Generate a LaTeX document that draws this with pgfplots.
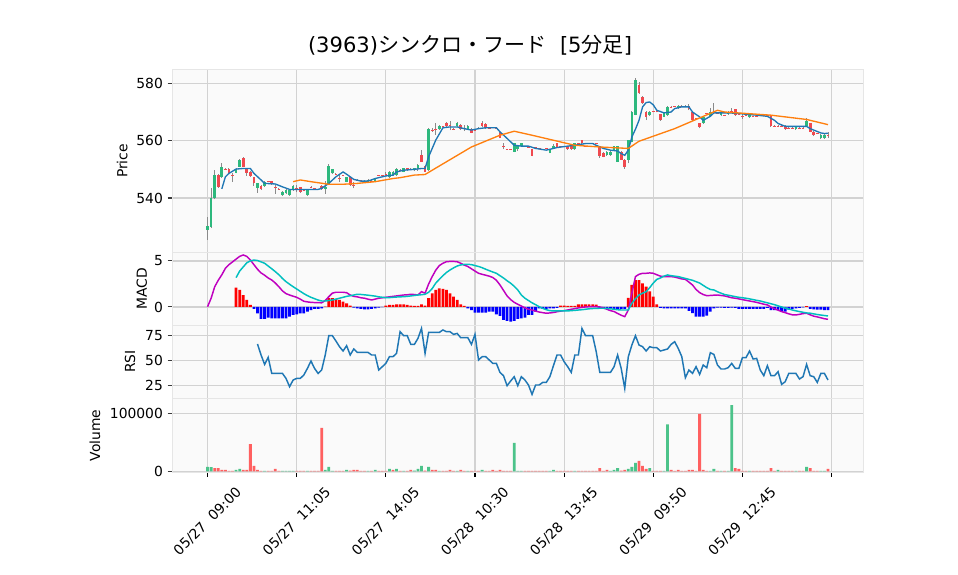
\documentclass[border=0pt]{standalone}
\usepackage{pgfplots}
\pgfplotsset{compat=1.18}
\usepackage{pgfplotstable}
\usepackage{fontspec}
\setmainfont{DejaVu Sans}
\newfontfamily\cjk{Noto Sans CJK JP}

\definecolor{upc}{HTML}{2DB87D}
\definecolor{dnc}{HTML}{F0494F}
\definecolor{vupc}{HTML}{4CC38A}
\definecolor{vdnc}{HTML}{FF6060}
\definecolor{wickc}{HTML}{8A8A8A}
\definecolor{bgc}{HTML}{FAFAFA}
\definecolor{gridc}{HTML}{D2D2D2}
\definecolor{framec}{HTML}{E6E6E6}
\definecolor{tickc}{HTML}{3A3A3A}
\definecolor{mpblue}{HTML}{1F77B4}
\definecolor{mporange}{HTML}{FF7F0E}
\definecolor{macdc}{HTML}{BF00BF}
\definecolor{sigc}{HTML}{00BFBF}

\pgfplotsset{
  panel/.style={
    scale only axis, width=518pt,
    xmin=-9.9, xmax=183.8,
    axis background/.style={fill=bgc},
    axis line style={draw=framec, line width=0.6pt},
    xmajorgrids, ymajorgrids,
    grid style={draw=gridc, line width=0.85pt},
    xtick={0,25,...,175}, xticklabels={},
    tick align=outside, major tick length=3.5pt,
    xtick pos=left, ytick pos=left,
    ytick style={draw=tickc, line width=0.8pt},
    xtick style={draw=none},
    /pgf/number format/assume math mode=true,
    ticklabel style={font=\fontsize{10.4}{12}\selectfont},
  },
}

\begin{document}

% candles, close >= open
\pgfplotstableread{
i o h l c
0 529.0 533.5 525.4 530.2
1 530.0 543.4 529.5 539.9
2 540.0 549.8 539.5 548.0
4 547.4 552.3 547.0 550.9
8 548.8 550.4 548.6 550.2
9 550.9 553.6 550.7 553.3
14 543.6 545.3 541.9 545.1
16 544.2 545.8 544.0 545.6
21 541.0 542.3 540.8 542.1
22 541.6 543.0 541.4 542.8
23 541.0 543.0 540.8 542.8
24 542.8 544.4 542.6 544.2
28 541.0 543.0 540.8 542.8
33 543.0 546.0 541.5 544.0
34 544.6 551.8 544.4 551.1
35 548.6 550.2 548.4 550.0
39 545.7 547.4 545.5 547.2
45 545.3 546.5 545.1 546.3
47 545.7 547.1 545.5 546.9
51 547.2 549.4 547.0 549.2
52 548.0 549.4 547.8 549.2
53 548.0 550.3 547.8 550.1
55 549.2 550.6 549.0 550.4
58 549.6 550.6 549.4 550.4
59 550.4 552.0 549.5 551.5
62 549.8 564.3 549.5 564.0
65 564.0 565.3 563.8 565.1
70 565.1 566.5 564.9 566.3
73 564.0 565.3 563.8 565.1
86 556.2 559.3 556.0 559.1
87 557.0 558.3 556.4 558.1
88 558.1 559.3 557.9 559.1
96 555.8 557.2 555.6 557.0
97 557.3 558.8 557.1 558.1
103 557.0 559.3 556.8 559.1
112 555.0 556.4 554.8 556.2
113 555.0 556.4 554.8 556.2
114 556.7 558.3 556.5 558.1
115 552.7 558.3 552.5 558.1
118 553.3 560.4 552.1 560.2
119 559.6 570.3 559.4 570.1
120 569.0 581.7 568.8 581.2
124 568.9 570.3 568.7 570.1
128 568.4 569.7 568.2 569.5
129 568.9 572.2 568.7 571.8
132 571.3 572.3 571.1 572.1
139 566.1 568.6 565.9 568.4
141 568.7 571.5 568.5 570.1
144 568.9 570.1 568.7 569.9
146 569.3 570.3 569.1 570.1
152 568.1 569.1 567.9 568.9
165 564.0 565.1 563.8 564.9
168 565.1 568.0 564.9 567.0
172 560.8 562.2 560.6 562.0
173 560.8 562.2 560.6 562.0
}\upT

% candles, close < open
\pgfplotstableread{
i o h l c
3 548.0 548.5 543.5 544.0
5 550.1 550.3 549.9 549.9
6 550.2 550.5 548.4 548.6
7 548.0 548.6 545.7 547.8
10 554.0 554.3 550.7 550.9
11 550.2 550.4 547.8 548.8
12 549.2 549.4 547.5 547.7
13 547.2 547.4 544.3 545.1
15 544.3 544.6 542.8 543.0
17 545.8 545.9 545.5 545.6
18 545.8 546.0 544.6 544.8
19 543.7 544.5 541.5 543.5
20 543.2 543.4 543.0 543.0
25 543.6 544.5 542.0 543.4
26 543.7 543.9 541.9 542.1
27 542.9 543.1 542.7 542.7
29 544.0 544.1 543.8 543.8
30 543.5 543.6 543.3 543.3
31 543.2 543.3 543.0 543.0
32 544.2 544.4 542.8 543.0
36 548.5 548.6 548.2 548.3
37 547.1 548.4 545.7 546.9
38 547.9 548.0 547.6 547.7
40 547.2 547.4 544.3 544.5
41 544.6 545.7 543.4 544.4
42 546.4 546.5 546.1 546.2
43 546.2 546.3 545.9 546.0
44 546.1 546.2 545.8 545.9
46 546.1 546.2 545.8 545.9
48 548.1 548.2 547.8 547.9
49 548.1 548.2 547.8 547.9
50 548.5 549.2 547.6 548.3
54 549.9 550.0 549.6 549.7
56 550.4 550.6 549.4 549.6
57 550.2 550.3 549.9 550.0
60 555.0 556.7 552.5 552.7
61 551.2 551.4 549.0 549.2
63 563.9 564.3 563.1 563.7
64 564.1 566.1 562.0 563.9
66 565.0 565.1 564.7 564.8
67 566.3 566.5 564.9 565.1
68 565.6 567.0 563.7 565.4
69 564.2 564.3 563.9 564.0
71 565.5 565.7 563.8 564.0
72 564.5 565.5 563.5 564.3
74 564.1 564.3 562.6 562.8
75 563.8 563.9 563.5 563.6
76 564.5 564.6 564.2 564.3
77 566.1 566.8 564.9 565.1
78 565.8 566.0 564.1 564.3
79 564.5 564.6 564.2 564.3
80 564.7 564.8 564.4 564.5
81 564.5 564.6 564.2 564.3
82 562.8 563.0 560.8 561.0
83 558.1 559.1 557.0 557.9
84 557.1 557.2 556.8 556.9
85 557.1 557.2 556.8 556.9
89 558.2 558.3 557.9 558.0
90 557.8 557.9 557.5 557.6
91 557.0 557.2 554.5 554.7
92 557.8 557.9 557.5 557.6
93 557.4 557.5 557.1 557.2
94 557.1 557.2 556.8 556.9
95 557.4 557.5 557.1 557.2
98 559.1 559.3 557.5 557.7
99 558.2 558.3 557.9 558.0
100 558.2 558.3 557.9 558.0
101 558.1 558.3 556.8 557.0
102 558.1 558.3 556.8 557.0
104 559.2 559.3 558.9 559.0
105 560.2 560.4 558.9 559.1
106 558.2 558.3 557.9 558.0
107 559.2 559.3 558.9 559.0
108 559.2 559.3 558.9 559.0
109 559.2 559.3 558.9 559.0
110 558.1 558.3 554.0 554.7
111 555.8 556.0 554.2 554.4
116 556.0 556.4 553.2 553.4
117 553.3 553.5 550.2 550.9
121 579.4 580.5 576.3 576.5
122 575.3 575.5 572.8 573.0
123 570.1 570.3 567.2 568.4
125 570.2 570.3 569.9 570.0
126 570.2 570.3 569.9 570.0
127 569.2 569.4 567.0 567.2
130 571.9 572.0 571.6 571.7
131 572.1 572.2 571.8 571.9
133 572.2 572.3 571.9 572.0
134 572.2 572.3 571.9 572.0
135 572.1 572.9 570.7 570.9
136 570.1 570.3 567.0 567.2
137 567.9 568.0 567.6 567.7
138 566.1 566.3 564.3 564.9
140 569.6 569.7 569.3 569.4
142 570.2 573.0 569.5 570.0
143 569.6 569.7 569.3 569.4
145 569.0 569.1 568.7 568.8
147 570.2 571.5 569.9 570.0
148 570.9 571.1 568.7 568.9
149 569.4 569.5 569.1 569.2
150 568.6 569.4 567.6 568.4
151 569.0 569.1 568.7 568.8
153 568.6 568.7 568.3 568.4
154 568.6 568.7 568.3 568.4
155 568.8 568.9 568.5 568.6
156 568.8 568.9 568.5 568.6
157 568.8 568.9 568.5 568.6
158 568.9 569.1 564.9 565.1
159 565.2 565.3 564.9 565.0
160 565.2 565.3 564.9 565.0
161 565.2 565.3 564.9 565.0
162 565.1 565.3 563.8 564.0
163 564.5 564.6 564.2 564.3
164 564.5 564.6 564.2 564.3
166 564.5 564.6 564.2 564.3
167 564.5 564.6 564.2 564.3
169 566.1 566.3 562.9 563.1
170 563.1 563.3 561.5 562.0
171 562.6 562.7 562.3 562.4
174 562.1 563.0 561.0 561.9
}\dnT

\pgfplotstableread{
i v
4 543.2
5 547.4
6 548.6
8 550.1
10 550.3
12 550.3
13 548.6
15 546.3
16 545.1
19 544.9
21 543.9
23 543.0
27 543.0
31 543.0
32 543.4
34 545.1
36 547.4
38 549.1
39 548.3
41 546.5
43 545.9
45 545.9
47 546.8
50 547.7
52 548.0
53 549.1
55 549.7
58 550.0
60 550.3
61 550.3
62 554.4
64 560.2
66 564.5
68 564.8
70 564.8
72 564.2
74 563.7
76 564.2
78 564.5
81 564.5
82 563.1
84 560.8
86 558.4
88 558.1
90 558.1
92 557.3
95 556.7
98 557.6
101 558.1
103 558.4
106 559.0
108 559.0
109 558.4
111 557.3
113 556.7
115 556.4
116 555.5
117 554.9
118 556.7
119 561.3
120 564.0
121 567.1
122 571.8
123 573.3
124 573.5
125 572.5
126 570.6
128 569.7
130 570.0
131 571.2
133 571.8
135 571.8
136 570.0
138 568.3
139 567.1
141 568.5
142 569.7
144 569.7
146 569.7
149 569.5
151 569.2
154 568.9
157 568.5
159 567.1
160 566.0
162 565.0
165 565.0
168 565.0
169 564.2
170 563.7
172 562.7
173 562.5
174 562.6
}\maA

\pgfplotstableread{
i v
24 545.7
26 546.3
29 545.7
34 544.8
38 544.8
42 545.1
47 545.7
52 546.8
54 547.1
58 548.0
61 548.2
63 549.7
74 557.8
82 561.9
86 563.3
91 561.9
103 558.4
110 557.8
118 557.3
121 559.8
131 564.2
143 570.6
145 570.0
158 568.9
168 567.4
174 565.6
}\maB

\pgfplotstableread{
i v
0 0.03
1 0.95
2 2.2
3 2.9
4 3.5
5 4.2
6 4.6
7 4.9
8 5.2
9 5.5
10 5.65
11 5.5
12 5.1
13 4.6
14 4.1
15 3.7
16 3.45
17 3.15
18 2.93
19 2.6
20 2.2
21 1.75
22 1.45
23 1.3
24 1.17
25 1.05
26 0.85
27 0.62
28 0.55
29 0.5
30 0.48
31 0.47
32 0.45
33 0.7
34 1.12
35 1.5
36 1.6
37 1.6
38 1.6
39 1.55
40 1.3
41 1.15
42 1.1
43 1.0
44 0.95
45 0.85
46 0.76
47 0.85
48 0.95
49 1.0
50 1.05
51 1.1
52 1.15
53 1.2
54 1.25
55 1.3
56 1.32
57 1.38
58 1.35
59 1.3
60 1.66
61 1.5
62 2.5
63 3.3
64 4.0
65 4.5
66 4.75
67 4.92
68 4.95
69 4.95
70 4.92
71 4.75
72 4.55
73 4.4
74 4.15
75 3.9
76 3.66
77 3.55
78 3.45
79 3.35
80 3.2
81 2.9
82 2.4
83 1.8
84 1.2
85 0.8
86 0.5
87 0.29
88 0.1
89 -0.1
90 -0.25
91 -0.33
92 -0.45
93 -0.55
94 -0.62
95 -0.68
96 -0.65
97 -0.6
98 -0.52
99 -0.45
100 -0.4
101 -0.33
102 -0.25
103 -0.18
104 -0.1
105 -0.05
106 0.0
107 0.03
108 0.05
109 0.03
110 0.0
111 -0.1
112 -0.25
113 -0.4
114 -0.5
115 -0.7
116 -0.9
117 -1.05
118 -0.33
119 1.5
120 3.3
121 3.55
122 3.66
123 3.66
124 3.7
125 3.66
126 3.5
127 3.35
128 3.3
129 3.3
130 3.3
131 3.25
132 3.15
133 3.05
134 3.0
135 2.7
136 2.39
137 1.9
138 1.56
139 1.35
140 1.23
141 1.25
142 1.28
143 1.3
144 1.25
145 1.2
146 1.1
147 1.0
148 0.95
149 0.88
150 0.8
151 0.72
152 0.65
153 0.58
154 0.5
155 0.4
156 0.3
157 0.22
158 0.0
159 -0.2
160 -0.35
161 -0.5
162 -0.62
163 -0.75
164 -0.85
165 -0.87
166 -0.8
167 -0.72
168 -0.68
169 -0.85
170 -1.0
171 -1.08
172 -1.18
173 -1.28
174 -1.34
}\macdT

\pgfplotstableread{
i v
8 3.19
9 3.9
10 4.35
11 4.8
12 5.0
13 5.1
14 5.05
15 4.9
16 4.75
17 4.45
18 4.15
19 3.84
20 3.5
21 3.1
22 2.75
23 2.47
24 2.2
25 1.95
26 1.7
27 1.45
28 1.23
29 1.05
30 0.9
31 0.75
32 0.65
33 0.65
34 0.7
35 0.76
36 0.85
37 0.95
38 1.05
39 1.15
40 1.22
41 1.3
42 1.38
43 1.36
44 1.32
45 1.28
46 1.23
47 1.18
48 1.1
49 1.05
50 1.01
51 1.02
52 1.05
53 1.08
54 1.1
55 1.12
56 1.15
57 1.2
58 1.25
59 1.3
60 1.33
61 1.38
62 1.6
63 2.0
64 2.6
65 3.0
66 3.4
67 3.75
68 4.02
69 4.25
70 4.45
71 4.57
72 4.62
73 4.64
74 4.6
75 4.5
76 4.4
77 4.27
78 4.1
79 3.95
80 3.8
81 3.66
82 3.4
83 3.15
84 2.85
85 2.58
86 2.25
87 1.85
88 1.3
89 0.95
90 0.7
91 0.45
92 0.25
93 0.03
94 -0.15
95 -0.3
96 -0.4
97 -0.43
98 -0.43
99 -0.43
100 -0.43
101 -0.43
102 -0.4
103 -0.37
104 -0.33
105 -0.3
106 -0.25
107 -0.2
108 -0.17
109 -0.15
110 -0.14
111 -0.14
112 -0.16
113 -0.2
114 -0.25
115 -0.3
116 -0.33
117 -0.33
118 -0.33
119 0.4
120 0.9
121 1.3
122 1.5
123 1.66
124 2.1
125 2.6
126 3.0
127 3.15
128 3.35
129 3.48
130 3.4
131 3.35
132 3.3
133 3.2
134 3.1
135 3.0
136 2.9
137 2.75
138 2.6
139 2.35
140 2.1
141 1.9
142 1.85
143 1.65
144 1.5
145 1.35
146 1.28
147 1.2
148 1.12
149 1.05
150 1.0
151 0.95
152 0.88
153 0.8
154 0.72
155 0.65
156 0.55
157 0.45
158 0.35
159 0.25
160 0.12
161 0.0
162 -0.12
163 -0.22
164 -0.33
165 -0.42
166 -0.5
167 -0.58
168 -0.65
169 -0.68
170 -0.75
171 -0.82
172 -0.88
173 -0.93
174 -0.98
}\sigT

\pgfplotstableread{
i v
8 2.1
9 1.85
10 1.3
11 0.76
12 0.22
33 0.03
34 0.95
35 0.95
36 0.87
37 0.76
38 0.58
39 0.4
40 0.15
50 0.15
51 0.22
52 0.22
53 0.29
54 0.29
55 0.29
56 0.22
57 0.15
58 0.12
59 0.12
60 0.29
61 0.15
62 0.95
63 1.49
64 1.85
65 2.03
66 1.96
67 1.85
68 1.49
69 1.12
70 0.76
71 0.29
72 0.12
99 0.15
100 0.15
101 0.12
102 0.12
103 0.12
104 0.29
105 0.29
106 0.29
107 0.29
108 0.29
109 0.25
118 1.0
119 2.39
120 2.93
121 2.93
122 2.57
123 2.2
124 1.7
125 1.12
126 0.29
168 0.1
}\hpos

\pgfplotstableread{
i v
13 -0.22
14 -0.7
15 -1.3
16 -1.3
17 -1.16
18 -1.23
19 -1.23
20 -1.23
21 -1.23
22 -1.23
23 -1.05
24 -0.87
25 -0.8
26 -0.7
27 -0.7
28 -0.5
29 -0.33
30 -0.22
31 -0.22
32 -0.14
41 -0.07
42 -0.14
43 -0.22
44 -0.25
45 -0.25
46 -0.22
47 -0.14
48 -0.07
49 -0.03
73 -0.14
74 -0.33
75 -0.62
76 -0.62
77 -0.62
78 -0.62
79 -0.5
80 -0.5
81 -0.8
82 -0.98
83 -1.41
84 -1.5
85 -1.58
86 -1.5
87 -1.3
88 -1.23
89 -1.16
90 -0.87
91 -0.87
92 -0.5
93 -0.14
94 -0.2
95 -0.2
96 -0.15
97 -0.15
98 -0.1
110 -0.15
111 -0.15
112 -0.2
113 -0.2
114 -0.22
115 -0.2
116 -0.22
117 -0.22
127 -0.1
128 -0.15
129 -0.15
130 -0.15
131 -0.15
132 -0.15
133 -0.15
134 -0.15
135 -0.43
136 -0.68
137 -1.05
138 -1.05
139 -1.05
140 -0.95
141 -0.5
142 -0.14
143 -0.07
144 -0.07
145 -0.1
146 -0.1
147 -0.07
148 -0.1
149 -0.22
150 -0.22
151 -0.22
152 -0.22
153 -0.22
154 -0.22
155 -0.22
156 -0.22
157 -0.1
158 -0.33
159 -0.33
160 -0.33
161 -0.5
162 -0.5
163 -0.3
164 -0.22
165 -0.15
166 -0.1
167 -0.05
169 -0.22
170 -0.25
171 -0.3
172 -0.3
173 -0.33
174 -0.33
}\hneg

\pgfplotstableread{
i v
14 66.7
15 55.7
16 46.3
17 53.3
18 37.3
19 37.3
20 37.3
21 37.3
22 32.3
23 24.0
24 30.7
25 32.3
26 32.3
27 35.7
28 42.3
29 49.7
30 42.3
31 37.3
32 40.7
33 55.7
34 75.0
35 75.0
36 69.7
37 64.0
38 59.7
39 65.0
40 55.7
41 61.7
42 58.3
43 58.3
44 58.3
45 58.3
46 55.7
47 55.7
48 40.7
49 44.0
50 47.3
51 54.0
52 54.0
53 57.3
54 79.0
55 75.0
56 75.0
57 66.3
58 66.3
59 72.3
60 82.3
61 57.3
62 78.3
63 78.3
64 78.3
65 78.3
66 80.7
67 79.0
68 79.0
69 76.3
70 77.3
71 73.0
72 73.0
73 73.0
74 66.3
75 76.3
76 50.7
77 54.0
78 54.0
79 50.7
80 47.3
81 47.3
82 38.3
83 35.0
84 25.0
85 29.7
86 34.0
87 25.0
88 34.0
89 30.7
90 25.7
91 16.3
92 25.7
93 25.7
94 28.3
95 28.3
96 34.0
97 45.0
98 55.7
99 55.7
100 49.0
101 44.0
102 38.3
103 55.7
104 55.7
105 82.3
106 75.0
107 75.0
108 75.0
109 59.0
110 38.3
111 38.3
112 38.3
113 38.3
114 44.0
115 55.7
116 42.3
117 22.3
118 54.0
119 65.7
120 75.0
121 65.7
122 64.0
123 59.7
124 64.0
125 63.0
126 63.0
127 59.7
128 60.7
129 61.7
130 66.3
131 69.0
132 62.3
133 54.0
134 33.0
135 40.7
136 37.3
137 44.0
138 36.3
139 45.7
140 43.0
141 58.0
142 56.3
143 45.7
144 41.7
145 41.7
146 43.0
147 47.3
148 42.3
149 42.3
150 53.0
151 53.0
152 59.7
153 51.7
154 52.3
155 40.7
156 35.0
157 45.0
158 35.0
159 35.0
160 39.0
161 26.3
162 29.0
163 37.3
164 37.3
165 37.3
166 31.7
167 34.0
168 46.3
169 35.0
170 34.0
171 28.3
172 37.3
173 37.3
174 30.7
}\rsiT

\pgfplotstableread{
i v
0 7500
1 7300
8 2300
9 4000
16 900
21 700
22 700
23 700
24 900
28 800
33 2300
34 7500
35 800
39 2300
45 900
47 2300
51 4000
53 4000
55 900
58 1200
59 4000
60 9200
62 7500
65 900
70 900
73 900
77 2300
86 48900
87 800
88 800
96 800
97 2300
103 800
113 900
114 2300
115 5700
118 4000
119 7500
120 14400
124 5700
128 900
129 81000
141 900
142 4000
144 900
146 800
147 114000
152 800
160 2300
165 800
168 7500
172 900
173 900
}\vupT

\pgfplotstableread{
i v
2 5700
3 5700
4 2300
5 2300
6 800
7 800
10 2300
11 2300
12 47000
13 9200
14 2300
15 900
17 700
18 700
19 4000
20 800
25 700
26 700
27 600
29 600
30 600
31 700
32 74700
36 700
37 700
38 700
40 1000
41 2300
42 2300
43 800
44 800
46 800
48 800
49 800
50 800
52 2300
54 800
56 900
57 2300
61 1000
63 2300
64 2300
66 800
67 900
68 2300
69 800
71 2300
72 800
74 900
75 700
76 700
78 900
79 800
80 2300
81 800
82 2300
83 800
84 700
85 700
89 700
90 700
91 900
92 700
93 700
94 700
95 700
98 800
99 700
100 700
101 800
102 800
104 700
105 800
106 700
107 700
108 700
109 700
110 5700
111 900
112 2300
116 1000
117 2300
121 17800
122 9200
123 4000
125 800
126 800
127 900
130 2300
131 800
132 2300
133 800
134 800
135 2300
136 2300
137 800
138 98900
139 2300
140 800
143 800
145 800
148 5700
149 4000
150 800
151 700
153 700
154 700
155 700
156 700
157 700
158 5700
159 700
161 700
162 900
163 700
164 700
166 700
167 700
169 5700
170 900
171 700
174 4000
}\vdnT

\begin{tikzpicture}
\path[use as bounding box] (0,0) rectangle (718.5pt,431.25pt);

% price panel
\begin{axis}[panel, at={(129.2pt,241.875pt)}, anchor=south west, height=137.4pt,
  ymin=521.0, ymax=584.9, ytick={540,560,580}]
\addplot[draw=wickc, line width=0.7pt, quiver={u=0, v=\thisrow{h}-\thisrow{l}}] table[x=i, y=l] {\upT};
\addplot[draw=wickc, line width=0.7pt, quiver={u=0, v=\thisrow{h}-\thisrow{l}}] table[x=i, y=l] {\dnT};
\addplot[draw=upc, line width=2pt, quiver={u=0, v=\thisrow{c}-\thisrow{o}}] table[x=i, y=o] {\upT};
\addplot[draw=dnc, line width=2pt, quiver={u=0, v=\thisrow{o}-\thisrow{c}}] table[x=i, y=c] {\dnT};
\addplot[mpblue, line width=1pt] table[x=i, y=v] {\maA};
\addplot[mporange, line width=1pt] table[x=i, y=v] {\maB};
\end{axis}

% MACD panel
\begin{axis}[panel, at={(129.2pt,187.5pt)}, anchor=south west, height=54.375pt,
  ymin=-1.96, ymax=5.92, ytick={0,5}]
\addplot[ybar, bar width=2.1pt, bar shift=0pt, fill=red, draw=none] table[x=i, y=v] {\hpos};
\addplot[ybar, bar width=2.1pt, bar shift=0pt, fill=blue, draw=none] table[x=i, y=v] {\hneg};
\addplot[macdc, line width=1.1pt] table[x=i, y=v] {\macdT};
\addplot[sigc, line width=1.1pt] table[x=i, y=v] {\sigT};
\end{axis}

% RSI panel
\begin{axis}[panel, at={(129.2pt,132.525pt)}, anchor=south west, height=54.975pt,
  ymin=12.4, ymax=85.7, ytick={25,50,75}]
\addplot[mpblue, line width=1.1pt] table[x=i, y=v] {\rsiT};
\end{axis}

% volume panel
\begin{axis}[panel, at={(129.2pt,77.025pt)}, anchor=south west, height=55.5pt,
  ymin=-1700, ymax=125900, ytick={0,100000}, yticklabels={0,100000},
  scaled y ticks=false,
  xticklabels={05/27~~09:00,05/27~~11:05,05/27~~14:05,05/28~~10:30,05/28~~13:45,05/29~~09:50,05/29~~12:45,{}},
  xtick style={draw=black, line width=0.8pt},
  xticklabel style={yshift=-33.5pt, rotate=45, anchor=center}]
\addplot[ybar, bar width=2.1pt, bar shift=0pt, fill=vupc, draw=none] table[x=i, y=v] {\vupT};
\addplot[ybar, bar width=2.1pt, bar shift=0pt, fill=vdnc, draw=none] table[x=i, y=v] {\vdnT};
\end{axis}

\node[font=\fontsize{15.8}{19}\selectfont] at (352.5pt,397.5pt) {(3963){\cjk シンクロ・フード}\ \ [5{\cjk 分足}]};
\node[rotate=90, font=\fontsize{10.4}{12}\selectfont] at (91.7pt,310.5pt) {Price};
\node[rotate=90, font=\fontsize{10.4}{12}\selectfont] at (106.3pt,214.75pt) {MACD};
\node[rotate=90, font=\fontsize{10.4}{12}\selectfont] at (97.5pt,160pt) {RSI};
\node[rotate=90, font=\fontsize{10.4}{12}\selectfont] at (71.25pt,104.75pt) {Volume};
\end{tikzpicture}
\end{document}
